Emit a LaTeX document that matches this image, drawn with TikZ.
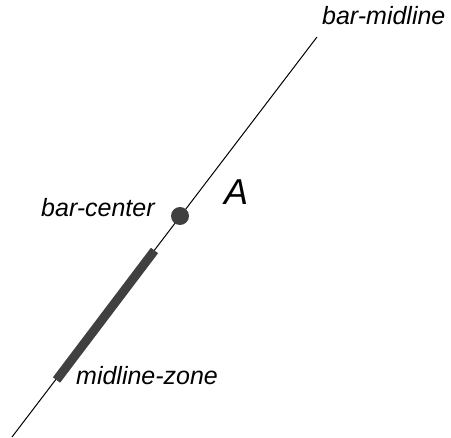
\documentclass[tikz,border=0pt]{standalone}
\usepackage{fontspec}
\setmainfont{Liberation Sans}
\definecolor{bardark}{HTML}{404040}
\begin{document}
\begin{tikzpicture}[x=1pt,y=-1pt,
  lbl/.style={inner sep=0pt,anchor=base west,font=\fontsize{25}{29}\selectfont\itshape},
  biglbl/.style={inner sep=0pt,anchor=base west,font=\fontsize{36}{42}\selectfont\itshape}]
\useasboundingbox (0,0) rectangle (451,438);
\coordinate (lineA) at (12,437);
\coordinate (lineB) at (317,37);
\coordinate (zoneA) at (154.5,250.5);
\coordinate (zoneB) at (56.5,380);
\draw[line width=1pt] (lineA) -- (lineB);
\draw[line width=9pt,bardark] (zoneA) -- (zoneB);
\node[circle,fill=bardark,minimum size=18pt,inner sep=0pt] (center) at (180,216) {};
\node[lbl] (midline) at (322,25) {bar-midline};
\node[lbl] (centerlbl) at (41,217) {bar-center};
\node[lbl] (zone) at (76,385) {midline-zone};
\node[biglbl] (A) at (224,205) {A};
\end{tikzpicture}
\end{document}
